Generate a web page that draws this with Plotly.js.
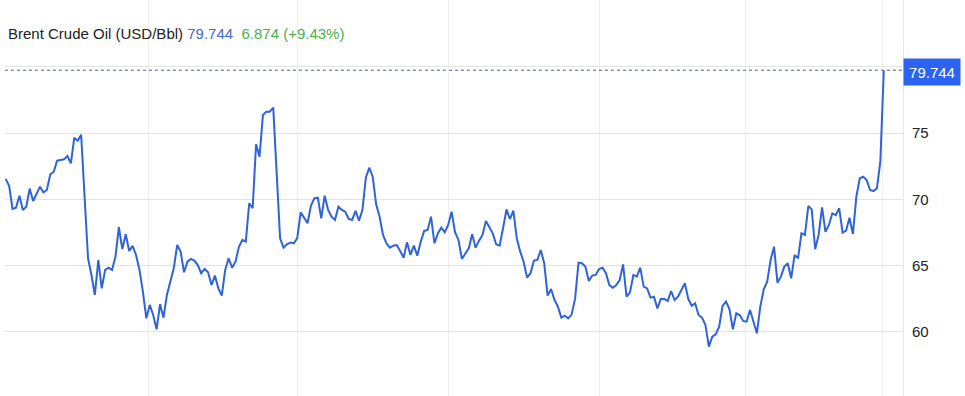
<!DOCTYPE html>
<html>
<head>
<meta charset="utf-8">
<script src="https://cdn.plot.ly/plotly-3.0.1.min.js"></script>
<style>
  html, body { margin: 0; padding: 0; background: #fff; }
  #chart { width: 965px; height: 396px; }
</style>
</head>
<body>
<div id="chart"></div>
<script>
// Brent Crude Oil (USD/Bbl), daily closes
const prices = [
  71.54, 71.03, 69.28, 69.37, 70.28, 69.20, 69.45, 70.83, 69.88, 70.46,
  70.96, 70.53, 70.71, 71.89, 72.09, 72.92, 72.95, 73.02, 73.27, 72.72,
  74.65, 74.43, 74.88, 70.20, 65.56, 64.30, 62.79, 65.43, 63.29, 64.68,
  64.85, 64.68, 65.68, 67.90, 66.26, 67.37, 66.11,
  66.49, 65.81, 64.68, 63.04, 61.03, 62.04, 61.28, 60.20, 62.09, 61.08,
  62.79, 63.85, 64.80, 66.56, 66.06, 64.50, 65.30, 65.51, 65.38, 65.05,
  64.43, 64.75, 64.50, 63.54, 64.25, 63.29, 62.74, 64.68, 65.56, 64.85,
  65.30, 66.43, 66.94, 66.81, 69.71, 69.33,
  74.16, 73.22, 76.37, 76.62, 76.62, 76.92, 72.00, 67.07, 66.36, 66.61,
  66.74, 66.69, 67.07, 69.03, 68.62, 68.20, 69.53, 70.08, 70.13, 68.57,
  70.28, 69.20, 68.70, 68.45, 69.45, 69.20, 69.07, 68.52, 68.45, 69.13,
  68.40, 69.20, 71.64, 72.39, 71.71, 69.63, 68.70,
  67.32, 66.69, 66.36, 66.51, 66.56, 66.11, 65.60, 66.76, 65.81, 66.51,
  65.76, 66.81, 67.62, 67.69, 68.70, 66.69, 67.44, 67.87, 67.52, 68.07,
  69.07, 67.52, 66.94, 65.51, 65.93, 66.31, 67.37, 66.36, 66.89, 67.32,
  68.37, 67.94, 67.44, 66.61, 66.51,
  67.82, 69.25, 68.52, 69.15, 67.07, 66.06, 65.30, 64.10, 64.43, 65.38,
  65.43, 66.18, 65.18, 62.74, 63.24, 62.41, 61.91, 61.08, 61.23, 61.03,
  61.33, 62.49, 65.23, 65.18, 64.93, 63.85, 64.25, 64.30, 64.75, 64.85,
  64.43, 63.54, 63.34, 63.54, 63.92, 65.10, 62.66,
  62.99, 64.30, 64.17, 64.85, 63.42, 63.29, 62.59, 62.66, 61.78, 62.49,
  62.49, 62.34, 63.09, 62.41, 62.66, 63.17, 63.67, 62.49, 61.98, 62.16,
  61.28, 61.08, 60.53, 58.89, 59.65, 59.82, 60.40, 61.98, 62.29, 61.73,
  60.20, 61.41, 61.28, 60.83, 60.78, 61.66,
  60.78, 59.90, 61.91, 63.22, 63.80, 65.43, 66.43, 63.72, 64.17, 64.93,
  65.18, 64.05, 65.81, 65.56, 67.44, 67.32, 69.50, 69.25, 66.24, 67.32,
  69.40, 67.56, 68.07, 68.95, 68.82, 69.33, 67.49, 67.64, 68.62, 67.39,
  70.21, 71.59, 71.71, 71.46, 70.71, 70.63, 70.84, 72.87, 79.744
];
// trading-day index of each session
const days = prices.map((_, i) => i);
// vertical gridline positions (every second month), in trading-day index units
const monthGrid = [41.5, 85.0, 129.0, 173.1, 215.7, 255.6];
const monthLabels = ['', '', '', '', '', ''];
// price axis ticks
const priceTicks = [55, 60, 65, 70, 75, 80, 85];
const priceTickText = ['', '60', '65', '70', '75', '', ''];

const last = prices[prices.length - 1];
const prev = prices[prices.length - 2];
const chg = last - prev;
const pct = chg / prev * 100;

const trace = {
  x: days,
  y: prices,
  type: 'scatter',
  mode: 'lines',
  line: { color: '#2f63d9', width: 2 },
  hoverinfo: 'skip'
};

const layout = {
  width: 965,
  height: 396,
  margin: { l: 5, r: 62, t: 0, b: 0 },
  paper_bgcolor: '#ffffff',
  plot_bgcolor: '#ffffff',
  showlegend: false,
  font: { family: 'Liberation Sans, Arial, sans-serif', color: '#222' },
  xaxis: {
    range: [-0.2, 261.6],
    tickvals: monthGrid,
    ticktext: monthLabels,
    showgrid: true,
    gridcolor: '#eeeeee',
    gridwidth: 1,
    zeroline: false,
    showline: false,
    ticks: '',
    fixedrange: true
  },
  yaxis: {
    side: 'right',
    range: [55.17, 85.04],
    tickvals: priceTicks,
    ticktext: priceTickText,
    showgrid: true,
    gridcolor: '#e3e3e3',
    gridwidth: 1,
    zeroline: false,
    showline: true,
    linecolor: '#e6e6e6',
    linewidth: 1,
    ticks: '',
    ticklabelstandoff: 5,
    tickfont: { size: 15, color: '#222', family: 'Liberation Sans, Arial, sans-serif' },
    fixedrange: true
  },
  shapes: [{
    type: 'line',
    xref: 'paper', yref: 'y',
    x0: 0, x1: 1, y0: last, y1: last,
    line: { color: '#4a5d8c', width: 1, dash: 'dot' }
  }],
  annotations: [
    {
      xref: 'paper', yref: 'paper',
      x: 0.0011, y: 1 - 33 / 396,
      xanchor: 'left', yanchor: 'middle',
      showarrow: false,
      align: 'left',
      font: { size: 15, color: '#222', family: 'Liberation Sans, Arial, sans-serif' },
      text: 'Brent Crude Oil (USD/Bbl) <span style="color:#4668c8">' + last.toFixed(3) +
            '</span>&nbsp;&nbsp;<span style="color:#4caf50">' + chg.toFixed(3) +
            ' (+' + pct.toFixed(2) + '%)</span>'
    },
    {
      xref: 'paper', yref: 'y',
      x: 1, y: last,
      xanchor: 'left', yanchor: 'middle',
      yshift: -2,
      showarrow: false,
      text: last.toFixed(3),
      font: { size: 15, color: '#ffffff', family: 'Liberation Sans, Arial, sans-serif' },
      bgcolor: '#2c63f0',
      width: 54,
      height: 24,
      borderpad: 1,
      align: 'center'
    }
  ]
};

Plotly.newPlot('chart', [trace], layout, { displayModeBar: false, staticPlot: true });
</script>
</body>
</html>
